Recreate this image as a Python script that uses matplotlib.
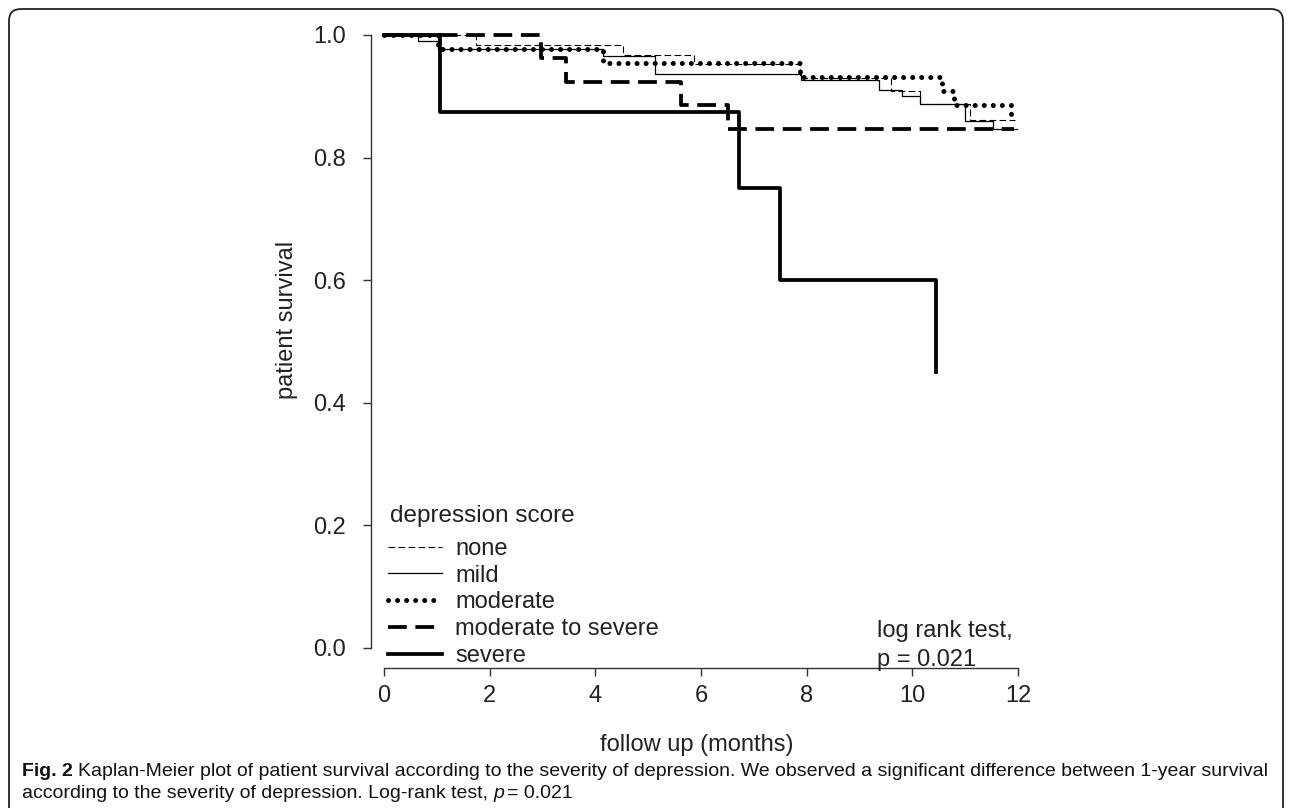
import matplotlib
matplotlib.use("Agg")
import matplotlib.pyplot as plt
import matplotlib.transforms as mtransforms
from matplotlib.patches import FancyBboxPatch

# ---------------- data ----------------
none_t = [0, 1.75, 4.53, 5.86, 7.88, 9.6, 10.15, 11.1, 11.95]
none_s = [1.0, 0.984, 0.967, 0.952, 0.930, 0.908, 0.888, 0.862, 0.862]

mild_t = [0, 0.65, 1.02, 4.15, 5.13, 7.9, 9.36, 9.8, 10.15, 11.0, 11.53, 11.98]
mild_s = [1.0, 0.99, 0.977, 0.965, 0.937, 0.927, 0.911, 0.900, 0.887, 0.860, 0.847, 0.847]

moderate_t = [0, 1.03, 4.15, 7.88, 10.56, 10.78, 11.86, 11.92]
moderate_s = [1.0, 0.977, 0.955, 0.932, 0.909, 0.886, 0.864, 0.864]

modsev_t = [0, 2.98, 3.45, 5.62, 6.52, 11.92]
modsev_s = [1.0, 0.962, 0.923, 0.885, 0.846, 0.846]

severe_t = [0, 1.06, 6.71, 7.5, 10.44, 10.44]
severe_s = [1.0, 0.875, 0.75, 0.60, 0.45, 0.45]

group_labels = ["none", "mild", "moderate", "moderate to severe", "severe"]
x_ticks = [0, 2, 4, 6, 8, 10, 12]
y_ticks = [0.0, 0.2, 0.4, 0.6, 0.8, 1.0]

# ---------------- figure ----------------
W, H = 1292, 808
plt.rcParams["font.family"] = ["Liberation Sans", "DejaVu Sans"]
fig = plt.figure(figsize=(W / 100, H / 100), dpi=100)
px = mtransforms.Affine2D().scale(1 / W, 1 / H) + fig.transFigure

def fy(y):
    return H - y

frame = FancyBboxPatch((9, -30), 1274, fy(9) + 30, boxstyle="round,pad=0,rounding_size=12",
                       transform=px, fill=False, edgecolor="#222222", linewidth=1.3)
fig.patches.append(frame)

x0, x1 = 384, 1018
y0, y1 = 648, 35
ax = fig.add_axes([x0 / W, fy(y0) / H, (x1 - x0) / W, (y0 - y1) / H])
ax.set_xlim(0, 12)
ax.set_ylim(0, 1)
ax.patch.set_visible(False)

k = "black"
l_none, = ax.step(none_t, none_s, where="post", color=k, lw=0.8, dashes=(6, 3), clip_on=False, zorder=3)
l_mild, = ax.step(mild_t, mild_s, where="post", color=k, lw=0.9, clip_on=False, zorder=3)
l_mod, = ax.step(moderate_t, moderate_s, where="post", color=k, lw=3.6, dashes=(0.01, 1.8),
                 dash_capstyle="round", clip_on=False, zorder=5)
l_ms, = ax.step(modsev_t, modsev_s, where="post", color=k, lw=2.7, dashes=(5, 2.3), clip_on=False, zorder=4)
l_sev, = ax.step(severe_t, severe_s, where="post", color=k, lw=2.7, clip_on=False, zorder=4)

for s in ["top", "right"]:
    ax.spines[s].set_visible(False)
ax.spines["left"].set_position(("outward", 13 * 0.72))
ax.spines["bottom"].set_position(("outward", 20 * 0.72))
ax.spines["left"].set_bounds(0, 1)
ax.spines["bottom"].set_bounds(0, 12)
for s in ["left", "bottom"]:
    ax.spines[s].set_linewidth(1.0)
    ax.spines[s].set_color("#333333")
ax.set_xticks(x_ticks)
ax.set_xticklabels([str(v) for v in x_ticks])
ax.set_yticks(y_ticks)
ax.set_yticklabels([f"{v:.1f}" for v in y_ticks])
ax.tick_params(direction="out", length=6, width=1.0, colors="#333333", labelsize=17,
               labelcolor="#222222")
ax.tick_params(axis="y", pad=12)
ax.tick_params(axis="x", pad=6)

fig.text(697 / W, fy(745) / H, "follow up (months)", ha="center", va="center", fontsize=17, color="#222222")
fig.text(287 / W, fy(320) / H, "patient survival", ha="center", va="center", rotation=90,
         fontsize=17, color="#222222")

fig.text(390 / W, fy(516) / H, "depression score", ha="left", va="center", fontsize=17.5, color="#222222")
leg = ax.legend([l_none, l_mild, l_mod, l_ms, l_sev], group_labels,
                loc="upper left", bbox_to_anchor=(388 / W, fy(538) / H), bbox_transform=fig.transFigure,
                frameon=False, fontsize=17, handlelength=2.3, handletextpad=0.55,
                labelspacing=0.2, borderpad=0, borderaxespad=0)
for t in leg.get_texts():
    t.set_color("#222222")

fig.text(877 / W, fy(631) / H, "log rank test,", ha="left", va="center", fontsize=17, color="#222222")
fig.text(877 / W, fy(660) / H, "p = 0.021", ha="left", va="center", fontsize=17, color="#222222")

# ---------------- caption ----------------
cap_fam = ["Liberation Sans", "DejaVu Sans"]
cs = 14.0
fig.canvas.draw()
r = fig.canvas.get_renderer()
t1 = fig.text(22 / W, fy(771) / H, "Fig. 2", ha="left", va="center", fontsize=cs, fontweight="bold",
              family=cap_fam, color="#111111")
bb = t1.get_window_extent(r)
t2 = fig.text((bb.x1 + 5) / W, fy(771) / H,
              "Kaplan-Meier plot of patient survival according to the severity of depression. "
              "We observed a significant difference between 1-year survival",
              ha="left", va="center", fontsize=cs, family=cap_fam, color="#111111")
t3 = fig.text(22 / W, fy(794) / H, "according to the severity of depression. Log-rank test, ",
              ha="left", va="center", fontsize=cs, family=cap_fam, color="#111111")
bb3 = t3.get_window_extent(r)
t4 = fig.text(bb3.x1 / W, fy(794) / H, "p", ha="left", va="center", fontsize=cs, style="italic",
              family=cap_fam, color="#111111")
bb4 = t4.get_window_extent(r)
fig.text((bb4.x1 + 3) / W, fy(794) / H, "= 0.021", ha="left", va="center", fontsize=cs,
         family=cap_fam, color="#111111")

fig.savefig("out.png", dpi=100)
